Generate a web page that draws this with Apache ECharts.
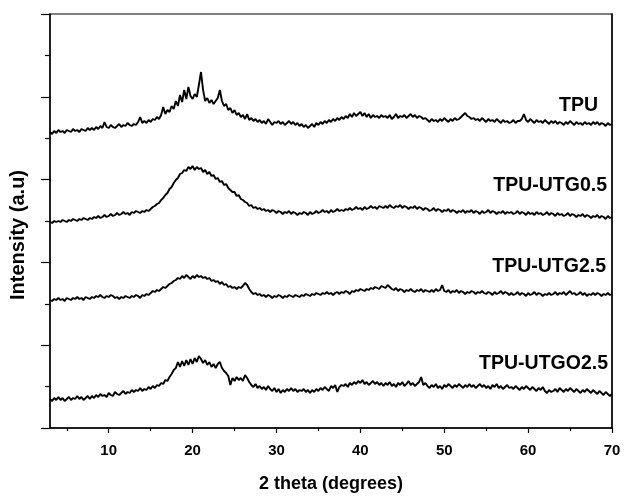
<!DOCTYPE html>
<html><head><meta charset="utf-8">
<script src="https://cdn.jsdelivr.net/npm/echarts@6/dist/echarts.min.js"></script>
<style>html,body{margin:0;padding:0;background:#fff}#c{width:624px;height:498px}</style>
</head><body><div id="c"></div>
<script>
// 2-theta sampling grid (degrees)
const thetaStart = 3;
const thetaStep = 0.25;
const xMin = 3, xMax = 70;
const xMajorEvery = 10, xMinorEvery = 5;
const seriesNames = ['TPU', 'TPU-UTG0.5', 'TPU-UTG2.5', 'TPU-UTGO2.5'];

// Intensities (a.u., offset as in the figure), one value per 0.25 deg from 3 to 70
const tpu = [
296,294,297,295,298,296,297,295,298,297,296,299,297,298,296,299,298,297,300,298,
300,298,301,299,302,300,306,301,300,303,301,300,302,304,301,303,302,305,303,302,
304,303,306,311,305,307,305,308,306,309,308,311,309,313,321,314,318,316,322,319,
327,322,333,326,338,329,341,332,329,334,331,343,356,338,327,330,325,328,324,327,
330,338,327,322,324,318,320,315,318,313,315,311,313,309,314,308,310,307,309,306,
308,305,307,304,309,306,303,306,305,307,304,306,303,305,307,304,306,303,305,302,
304,301,303,300,302,304,301,305,303,306,304,307,305,308,306,309,307,310,308,311,
309,312,310,314,311,315,312,314,316,312,315,311,314,310,313,311,312,310,313,311,
312,310,313,309,311,314,310,312,311,313,310,312,314,311,313,310,312,311,309,310,
308,306,309,307,308,306,309,307,310,308,306,309,307,310,308,309,311,313,315,312,
311,309,310,308,309,307,310,308,306,309,307,308,306,309,307,305,308,306,307,305,
306,308,305,307,307,309,314,308,306,309,307,305,308,306,307,305,308,306,304,307,
305,307,304,306,305,303,306,304,307,305,303,306,304,305,303,306,304,305,303,306,
304,306,303,305,304,302,305,303,304
];
const utg05 = [
206,205,207,206,207,206,208,207,206,208,207,209,208,207,209,208,210,209,208,210,
209,211,210,212,210,211,213,211,212,214,212,213,215,213,214,216,214,215,213,216,
215,217,216,215,217,216,218,217,219,221,222,224,225,228,230,233,235,239,241,245,
248,250,254,255,258,257,261,259,262,258,261,259,260,256,258,254,256,252,253,249,
250,246,247,243,244,240,238,236,236,232,233,229,228,226,225,222,223,220,221,219,
220,218,219,217,218,216,218,217,215,217,216,214,216,215,217,214,216,215,213,215,
214,216,215,213,216,214,215,217,215,216,218,216,217,215,218,216,217,219,217,218,
217,219,218,220,218,219,221,219,220,218,221,219,220,222,220,221,219,222,221,220,
222,220,223,221,220,222,221,223,220,222,221,219,221,220,222,219,221,220,218,220,
219,217,218,220,217,219,218,216,218,217,219,216,218,217,215,217,216,218,215,217,
216,218,215,217,216,214,217,215,216,218,215,217,216,214,216,215,217,214,216,215,
216,214,215,217,214,216,215,213,216,214,215,213,216,214,215,213,214,216,213,215,
214,212,215,213,214,212,213,215,212,214,213,211,213,212,214,211,213,212,210,212,
211,213,210,212,211,209,212,210,211
];
const utg25 = [
128,127,129,128,130,128,129,127,130,129,128,130,129,131,129,130,128,131,130,129,
131,130,132,131,133,131,130,132,131,133,132,130,131,129,131,130,132,131,130,132,
131,133,132,130,133,132,134,133,135,137,136,138,137,139,141,140,142,144,145,147,
148,150,149,152,150,153,151,149,152,150,153,151,152,150,151,149,150,147,148,146,
147,144,146,143,144,141,142,140,141,139,141,140,142,145,143,139,136,134,135,133,
134,132,133,131,133,132,130,132,131,133,132,130,132,131,133,132,131,133,132,131,
133,132,134,133,132,134,133,135,134,133,135,134,136,134,135,133,135,136,134,136,
135,137,136,134,137,136,138,137,139,138,137,139,138,140,139,141,140,139,142,141,
140,143,141,139,138,140,137,139,138,136,138,137,139,137,136,138,137,139,136,138,
137,136,138,136,139,137,138,143,137,136,138,135,137,136,138,135,137,136,134,136,
135,137,136,134,136,135,137,135,134,136,135,133,136,134,135,137,134,136,135,133,
135,133,134,136,133,135,134,132,135,133,134,136,133,135,134,132,134,133,135,133,
134,136,133,135,134,136,133,135,137,134,135,133,134,136,133,135,132,134,133,135,
133,135,134,132,134,133,135,133,134
];
const utgo25 = [
29,27,30,28,31,28,30,27,29,31,28,30,29,32,29,31,28,30,32,29,
32,30,33,31,34,32,33,31,35,33,32,36,34,33,35,37,34,36,35,38,
36,38,37,40,37,39,38,41,39,42,40,43,42,45,44,48,47,51,54,58,
60,66,61,67,62,68,63,69,64,70,66,72,69,65,68,63,66,61,64,60,
64,66,60,57,55,52,43,50,47,51,48,50,47,53,50,46,43,41,44,40,
42,39,41,38,42,39,37,40,36,39,35,38,36,39,37,40,37,39,36,38,
37,39,36,38,35,38,36,39,37,40,38,41,39,37,42,40,43,36,41,43,
42,44,41,45,43,46,44,47,45,48,44,46,43,45,47,44,46,43,45,42,
45,43,46,42,44,41,45,43,46,42,44,47,43,45,42,44,46,51,43,45,
42,40,43,41,44,40,42,39,43,41,44,42,40,43,41,44,42,40,43,41,
44,41,43,40,42,44,41,43,40,42,39,43,41,44,40,42,39,41,43,40,
41,39,42,40,38,41,39,42,40,38,41,39,37,40,38,41,37,35,38,36,
37,39,36,40,38,36,39,37,40,38,36,39,37,35,38,36,39,37,35,38,
36,34,37,35,33,36,34,32,34
];
const yMin = 0, yMax = 414, yInterval = 82.8;

const allSeries = [tpu, utg05, utg25, utgo25];
const toPairs = arr => arr.map((v, i) => [thetaStart + i * thetaStep, v]);
const xCats = [];
for (let d = xMin; d <= xMax; d++) xCats.push(String(d));

const font = 'Arial, "Liberation Sans", sans-serif';
const chart = echarts.init(document.getElementById('c'), null, {renderer: 'canvas'});
const labelPos = [[598, 106], [607, 186], [606, 267], [608, 364]];

chart.setOption({
  animation: false,
  backgroundColor: '#fff',
  grid: {left: 48, right: 12, top: 14, bottom: 70, show: true, borderColor: '#555', borderWidth: 1.5},
  xAxis: [
    {type: 'value', min: xMin, max: xMax, show: false},
    {type: 'category', data: xCats, boundaryGap: false, position: 'bottom',
     name: '2 theta (degrees)', nameLocation: 'middle', nameGap: 47,
     nameTextStyle: {fontFamily: font, fontWeight: 'bold', fontSize: 18, color: '#000'},
     axisLine: {show: true, lineStyle: {color: '#000', width: 1.5}},
     axisTick: {show: true, inside: false, length: 5, lineStyle: {color: '#000', width: 1.2},
                interval: (i, v) => Number(v) % xMajorEvery === 0},
     axisLabel: {show: true, margin: 15, fontFamily: font, fontWeight: 'bold', fontSize: 15, color: '#000',
                 interval: (i, v) => Number(v) % xMajorEvery === 0},
     splitLine: {show: false}},
    {type: 'category', data: xCats, boundaryGap: false, position: 'bottom',
     axisLine: {show: false},
     axisTick: {show: true, inside: false, length: 3, lineStyle: {color: '#000', width: 1.2},
                interval: (i, v) => Number(v) % xMinorEvery === 0 && Number(v) % xMajorEvery !== 0},
     axisLabel: {show: false}, splitLine: {show: false}}
  ],
  yAxis: [
    {type: 'value', min: yMin, max: yMax, interval: yInterval,
     name: 'Intensity (a.u)', nameLocation: 'middle', nameGap: 22,
     nameTextStyle: {fontFamily: font, fontWeight: 'bold', fontSize: 20, color: '#000', padding: [0, 28, 0, 0]},
     axisLine: {show: true, lineStyle: {color: '#000', width: 1.5}},
     axisTick: {show: true, inside: false, length: 9, lineStyle: {color: '#000', width: 1.2}},
     minorTick: {show: true, splitNumber: 2, length: 5, lineStyle: {color: '#000', width: 1.2}},
     axisLabel: {show: false}, splitLine: {show: false}, minorSplitLine: {show: false}},
    {type: 'value', min: yMin, max: yMax, position: 'right',
     axisLine: {show: true, lineStyle: {color: '#000', width: 1.5}},
     axisTick: {show: false}, axisLabel: {show: false}, splitLine: {show: false}}
  ],
  series: allSeries.map((arr, k) => ({
    name: seriesNames[k], type: 'line', xAxisIndex: 0, yAxisIndex: 0,
    data: toPairs(arr), showSymbol: false, symbol: 'none',
    lineStyle: {color: '#000', width: 1.9}, silent: true
  })),
  graphic: seriesNames.map((n, k) => ({
    type: 'text', x: labelPos[k][0], y: labelPos[k][1],
    style: {text: n, font: 'bold 19.5px ' + font, fill: '#000', textAlign: 'right', textVerticalAlign: 'middle'}
  }))
});
</script></body></html>
